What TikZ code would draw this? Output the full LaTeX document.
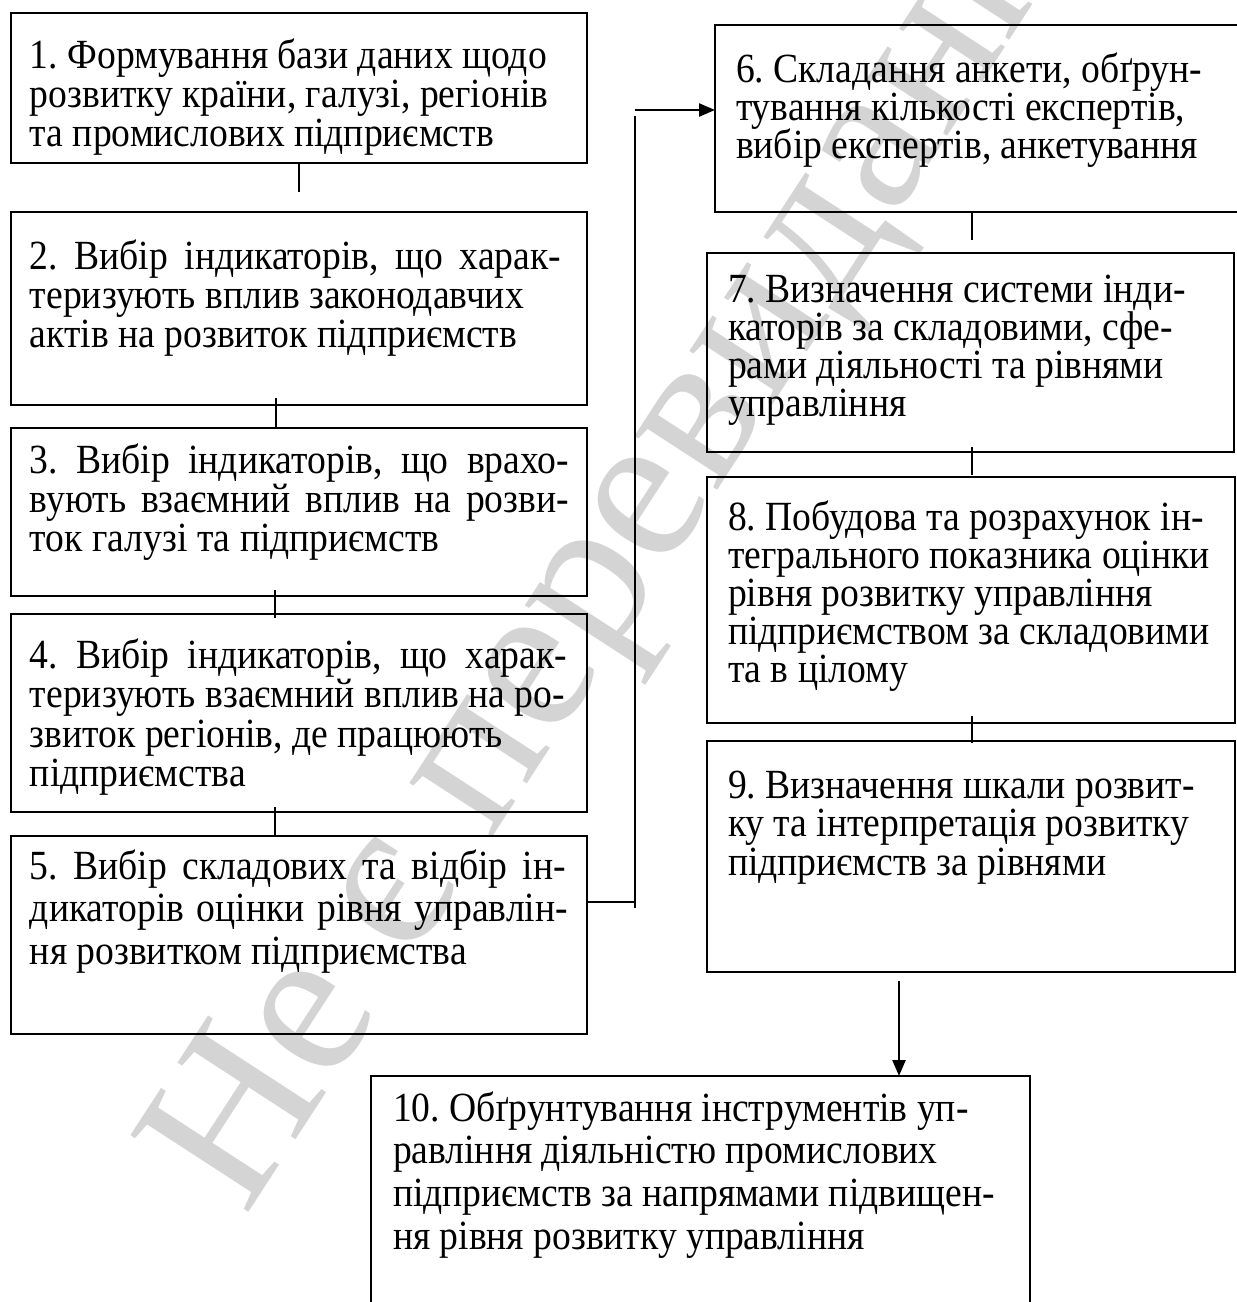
\documentclass[tikz,border=0pt]{standalone}
\usepackage{fontspec}
\setmainfont{Liberation Serif}
\newfontfamily\boxfont{Liberation Serif}[FakeStretch=0.906]
\usetikzlibrary{arrows.meta}
\definecolor{wmgray}{gray}{0.83}
\newcommand\bxt[2]{\vtop{\boxfont\fontsize{41.5}{#1}\selectfont\frenchspacing\lineskiplimit=-100pt\halign{##\hfil\cr#2\crcr}}}
\newcommand\jl[2]{\hbox to #1pt{#2}}
\tikzset{
  box/.style={draw, line width=2pt, rectangle, anchor=north west, inner sep=0pt, outer sep=0pt},
  lbl/.style={anchor=base west, inner sep=0pt, outer sep=0pt},
  conn/.style={line width=2pt},
  arr/.style={line width=2.4pt, -{Triangle[length=16pt,width=13pt]}},
  wmark/.style={anchor=base west, inner sep=0pt, text=wmgray, font=\fontsize{215}{215}\selectfont, rotate=57}
}
\begin{document}
\begin{tikzpicture}[x=1pt,y=-1pt]
\useasboundingbox (0,0) rectangle (1237,1302);
\fill[white] (0,0) rectangle (1237,1302);
% watermark
\node[wmark] (wm) at (245,1218) {Не є перевиданням};
% boxes
\node[box, minimum width=576.5pt, minimum height=150pt] (b1) at (10.5,13) {};
\node[box, minimum width=576.5pt, minimum height=193pt] (b2) at (10.5,212) {};
\node[box, minimum width=576.5pt, minimum height=168pt] (b3) at (10.5,428) {};
\node[box, minimum width=576.5pt, minimum height=198pt] (b4) at (10.5,614) {};
\node[box, minimum width=576.5pt, minimum height=198pt] (b5) at (10.5,836) {};
\node[box, minimum width=540pt, minimum height=187pt] (b6) at (715,25) {};
\node[box, minimum width=527pt, minimum height=199pt] (b7) at (707,253) {};
\node[box, minimum width=528pt, minimum height=246pt] (b8) at (707,477) {};
\node[box, minimum width=528pt, minimum height=231pt] (b9) at (707,741) {};
\node[box, minimum width=659pt, minimum height=260pt] (b10) at (371,1076) {};
% texts
\node[lbl] (t1) at (30,68) {\bxt{39.3}{1. Формування бази даних щодо\cr розвитку країни, галузі, регіонів\cr та промислових підприємств}};
\node[lbl] (t2) at (30,269) {\bxt{39.3}{\jl{531}{2. Вибір індикаторів, що харак-}\cr теризують вплив законодавчих\cr актів на розвиток підприємств}};
\node[lbl] (t3) at (30,473) {\bxt{39.3}{\jl{539}{3. Вибір індикаторів, що врахо-}\cr \jl{539}{вують взаємний вплив на розви-}\cr ток галузі та підприємств}};
\node[lbl] (t4) at (30,668) {\bxt{39.5}{\jl{537}{4. Вибір індикаторів, що харак-}\cr \jl{535}{теризують взаємний вплив на ро-}\cr звиток регіонів, де працюють\cr підприємства}};
\node[lbl] (t5) at (30,879) {\bxt{42.5}{\jl{536}{5. Вибір складових та відбір ін-}\cr \jl{538}{дикаторів оцінки рівня управлін-}\cr ня розвитком підприємства}};
\node[lbl] (t6) at (736,82) {\bxt{38.2}{6. Складання анкети, обґрун-\cr тування кількості експертів,\cr вибір експертів, анкетування}};
\node[lbl] (t7) at (728,302) {\bxt{38.3}{7. Визначення системи інди-\cr каторів за складовими, сфе-\cr рами діяльності та рівнями\cr управління}};
\node[lbl] (t8) at (728,530) {\bxt{38.1}{8. Побудова та розрахунок ін-\cr тегрального показника оцінки\cr рівня розвитку управління\cr підприємством за складовими\cr та в цілому}};
\node[lbl] (t9) at (728,798) {\bxt{38.5}{9. Визначення шкали розвит-\cr ку та інтерпретація розвитку\cr підприємств за рівнями}};
\node[lbl] (t10) at (393,1121) {\bxt{42.7}{10. Обґрунтування інструментів уп-\cr равління діяльністю промислових\cr підприємств за напрямами підвищен-\cr ня рівня розвитку управління}};
% connector end points
\coordinate (c12) at (298.5,192);
\coordinate (c23) at (275.5,427);
\coordinate (c34) at (275,618);
\coordinate (c45) at (275,835);
\coordinate (c67) at (971.5,240);
\coordinate (c78) at (971.5,475);
\coordinate (c89) at (971.5,743);
\coordinate (h5) at (635,902);
\coordinate (v5a) at (635,908);
\coordinate (v5b) at (635,116);
\coordinate (h6) at (635,110);
\coordinate (a9) at (899,981);
% connectors
\draw[conn] (b1.south -| c12) -- (c12);
\draw[conn] ([yshift=7pt]b2.south -| c23) -- (c23);
\draw[conn] ([yshift=6pt]b3.south -| c34) -- (c34);
\draw[conn] ([yshift=5pt]b4.south -| c45) -- (c45);
\draw[conn] (b6.south -| c67) -- (c67);
\draw[conn] ([yshift=5pt]b7.south -| c78) -- (c78);
\draw[conn] ([yshift=7pt]b8.south -| c89) -- (c89);
\draw[conn] (b5.east |- h5) -- (h5);
\draw[conn] (v5a) -- (v5b);
\draw[arr] (h6) -- (b6.west |- h6);
\draw[arr] (a9) -- (b10.north -| a9);
\end{tikzpicture}
\end{document}
